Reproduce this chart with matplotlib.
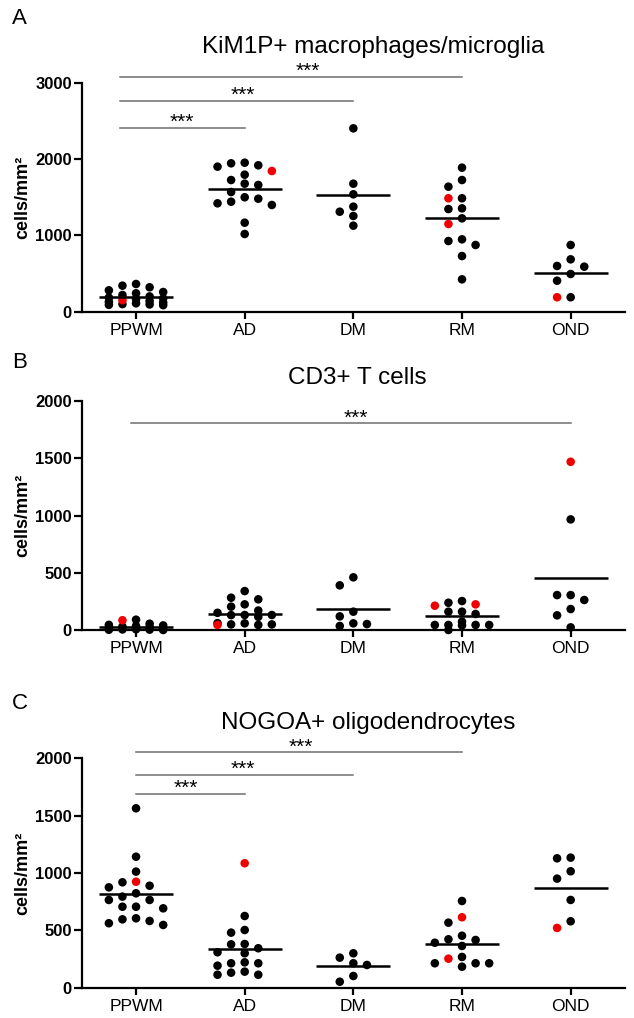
import numpy as np
import matplotlib
matplotlib.use('Agg')
import matplotlib.pyplot as plt

plt.rcParams['font.family'] = ['Liberation Sans', 'DejaVu Sans']

groups = ['PPWM', 'AD', 'DM', 'RM', 'OND']

# A: KiM1P+ macrophages/microglia, cells/mm2 (the *_red lists are the highlighted cases)
kim_ppwm = [363, 341, 320, 280, 258, 241, 219, 200, 185, 175, 165, 140, 130, 120, 110, 100, 95, 90, 85]
kim_ppwm_red = [150]
kim_ad = [1952, 1944, 1918, 1900, 1795, 1725, 1677, 1660, 1568, 1499, 1480, 1441, 1420, 1398, 1166, 1018]
kim_ad_red = [1843]
kim_dm = [2402, 1677, 1538, 1376, 1310, 1254, 1127]
kim_dm_red = []
kim_rm = [1887, 1725, 1638, 1486, 1345, 1354, 1223, 874, 926, 948, 729, 424]
kim_rm_red = [1486, 1149]
kim_ond = [874, 686, 599, 590, 494, 406, 189]
kim_ond_red = [189]

# B: CD3+ T cells
cd3_ppwm = [90, 55, 45, 40, 35, 30, 25, 22, 20, 18, 15, 12, 10, 8, 6, 5, 3, 2, 0]
cd3_ppwm_red = [85]
cd3_ad = [340, 282, 268, 224, 204, 170, 150, 130, 131, 131, 115, 58, 49, 44, 49, 60]
cd3_ad_red = [44]
cd3_dm = [460, 390, 160, 119, 58, 52, 35]
cd3_dm_red = []
cd3_rm = [238, 253, 160, 140, 160, 73, 44, 44, 40, 44, 44, 0]
cd3_rm_red = [212, 224]
cd3_ond = [966, 305, 262, 305, 183, 128, 23]
cd3_ond_red = [1469]

# C: NOGOA+ oligodendrocytes
nogo_ppwm = [1564, 1142, 1012, 919, 889, 875, 823, 794, 765, 765, 706, 692, 706, 605, 582, 596, 547, 562]
nogo_ppwm_red = [924]
nogo_ad = [625, 480, 503, 378, 381, 309, 300, 344, 192, 213, 213, 221, 131, 113, 113, 140]
nogo_ad_red = [1085]
nogo_dm = [300, 213, 198, 262, 102, 52]
nogo_dm_red = []
nogo_rm = [756, 567, 422, 392, 416, 453, 364, 268, 213, 183, 213, 213]
nogo_rm_red = [614, 253]
nogo_ond = [1134, 1128, 1015, 951, 765, 579]
nogo_ond_red = [521]

# significance comparisons (group index pairs) and the height of their bars
sig_a_pairs = [(0, 1), (0, 2), (0, 3)]
sig_a_heights = [2410, 2764, 3078]
sig_b_pairs = [(0, 4)]
sig_b_heights = [1804]
sig_c_pairs = [(0, 1), (0, 2), (0, 3)]
sig_c_heights = [1692, 1852, 2052]

# %% layout helpers
W, H = 634, 1018


def rect(left, top, right, bottom):
    return [left / W, 1 - bottom / H, (right - left) / W, (bottom - top) / H]


def swarm(ax, values, step=0.125, dot_px=8.5, max_slot=2):
    y = ax.transData.transform(np.column_stack([np.zeros(len(values)), values]))[:, 1]
    slots = [0]
    for k in range(1, max_slot + 1):
        slots += [-k, k]
    taken = {k: [] for k in slots}
    offs = np.zeros(len(values))
    for i in np.argsort(-np.asarray(values, float), kind='stable'):
        best, best_gap = 0, -1
        for k in slots:
            gap = min([abs(y[i] - v) for v in taken[k]], default=np.inf)
            if gap >= dot_px:
                best = k
                break
            if gap > best_gap:
                best, best_gap = k, gap
        taken[best].append(y[i])
        offs[i] = best * step
    return offs


def draw_panel(ax, black, red, ymax, ystep):
    ax.set_xlim(-0.5, 4.5)
    ax.set_ylim(0, ymax)
    for i, (b, r) in enumerate(zip(black, red)):
        vals = np.array(b + r, float)
        offs = swarm(ax, vals)
        colors = ['black'] * len(b) + ['#f00000'] * len(r)
        ax.scatter(i + offs, vals, s=38, c=colors, linewidths=0, zorder=3, clip_on=False)
        ax.hlines(vals.mean(), i - 0.34, i + 0.34, color='black', lw=1.8, zorder=4)

    ax.set_xticks(range(len(groups)), labels=groups)
    ax.set_yticks(np.arange(0, ymax + 1, ystep))
    for side in ['top', 'right']:
        ax.spines[side].set_visible(False)
    for side in ['left', 'bottom']:
        ax.spines[side].set_linewidth(1.6)
    ax.tick_params(axis='y', length=6, width=1.6, pad=1, labelsize=12)
    ax.tick_params(axis='x', length=5, width=1.6, pad=3, labelsize=12.5)
    for lbl in ax.get_yticklabels():
        lbl.set_fontweight('bold')
    ax.set_ylabel('cells/mm²', fontsize=13, fontweight='bold')
    ax.yaxis.set_label_coords(-0.093, 0.5)


def draw_sig(ax, pairs, heights, start, star_x):
    for (g0, g1), h, sx in zip(pairs, heights, star_x):
        ax.plot([g0 + start, g1], [h, h], color='#6e6e6e', lw=1.1, clip_on=False)
        ax.text(sx, h, '***', ha='center', va='baseline', fontsize=15, clip_on=False)


fig = plt.figure(figsize=(W / 100, H / 100), dpi=100)

ax_a = fig.add_axes(rect(81.7, 82.7, 625, 311.7))
draw_panel(ax_a,
           [kim_ppwm, kim_ad, kim_dm, kim_rm, kim_ond],
           [kim_ppwm_red, kim_ad_red, kim_dm_red, kim_rm_red, kim_ond_red],
           3000, 1000)
draw_sig(ax_a, sig_a_pairs, sig_a_heights, -0.15, [0.42, 0.98, 1.58])

ax_b = fig.add_axes(rect(81.7, 401, 625, 630))
draw_panel(ax_b,
           [cd3_ppwm, cd3_ad, cd3_dm, cd3_rm, cd3_ond],
           [cd3_ppwm_red, cd3_ad_red, cd3_dm_red, cd3_rm_red, cd3_ond_red],
           2000, 500)
draw_sig(ax_b, sig_b_pairs, sig_b_heights, -0.05, [2.02])

ax_c = fig.add_axes(rect(81.7, 758.3, 625, 987.7))
draw_panel(ax_c,
           [nogo_ppwm, nogo_ad, nogo_dm, nogo_rm, nogo_ond],
           [nogo_ppwm_red, nogo_ad_red, nogo_dm_red, nogo_rm_red, nogo_ond_red],
           2000, 500)
draw_sig(ax_c, sig_c_pairs, sig_c_heights, 0.0, [0.46, 0.98, 1.52])

# titles and panel letters
fig.text(373 / W, 1 - 52.7 / H, 'KiM1P+ macrophages/microglia', ha='center', va='baseline', fontsize=17.5)
fig.text(357 / W, 1 - 384 / H, 'CD3+ T cells', ha='center', va='baseline', fontsize=17.5)
fig.text(368 / W, 1 - 729.3 / H, 'NOGOA+ oligodendrocytes', ha='center', va='baseline', fontsize=17.5)
for letter, base in [('A', 24), ('B', 368.3), ('C', 709.3)]:
    fig.text(12 / W, 1 - base / H, letter, ha='left', va='baseline', fontsize=16)

fig.savefig('out.png', dpi=100)
